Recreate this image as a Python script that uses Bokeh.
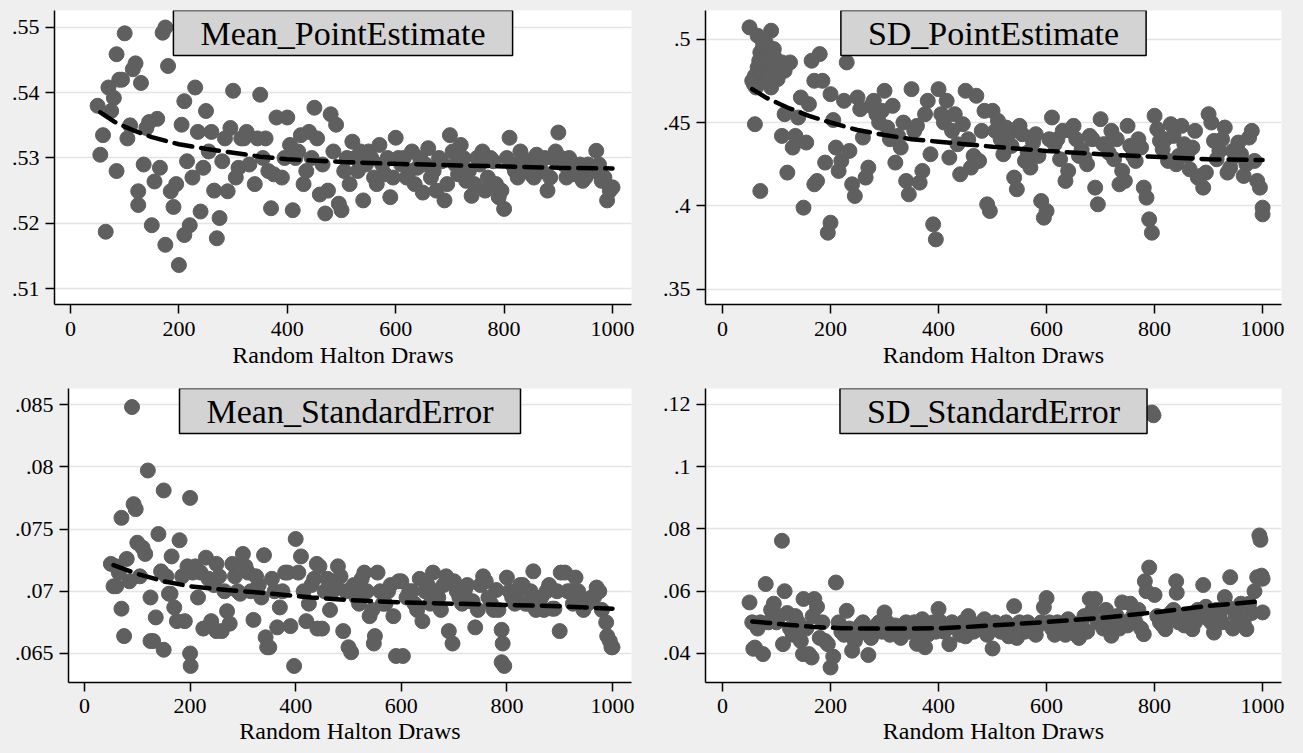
from bokeh.plotting import figure
from bokeh.layouts import row, column
from bokeh.models import Range1d, FixedTicker, CustomJSTickFormatter, Label
from bokeh.embed import file_html
from bokeh.resources import INLINE

# ---------------- data ----------------
X10 = [50, 60, 70, 80, 90, 100, 110, 120, 130, 140, 150, 160, 170, 180, 190, 200, 210, 220, 230, 240,
       250, 260, 270, 280, 290, 300, 310, 320, 330, 340, 350, 360, 370, 380, 390, 400, 410, 420, 430, 440,
       450, 460, 470, 480, 490, 500, 510, 520, 530, 540, 550, 560, 570, 580, 590, 600, 610, 620, 630, 640,
       650, 660, 670, 680, 690, 700, 710, 720, 730, 740, 750, 760, 770, 780, 790, 800, 810, 820, 830, 840,
       850, 860, 870, 880, 890, 900, 910, 920, 930, 940, 950, 960, 970, 980, 990, 1000]

X_TICKS = [0, 200, 400, 600, 800, 1000]
X_LABEL = "Random Halton Draws"

# Panel 1: Mean_PointEstimate
P1_Y = [.5380, .5335, .5408, .5392, .5420, .5491, .5350, .5445, .5415, .5346,
        .5197, .5360, .5492, .5441, .5225, .5136, .5387, .5197, .5408, .5218,
        .5372, .5340, .5177, .5295, .5249, .5403, .5285, .5330, .5290, .5260,
        .5397, .5330, .5223, .5362, .5270, .5362, .5220, .5310, .5260, .5340,
        .5377, .5244, .5215, .5367, .5351, .5220, .5300, .5325, .5280, .5235,
        .5310, .5270, .5320, .5275, .5240, .5331, .5290, .5270, .5310, .5285,
        .5247, .5315, .5280, .5300, .5235, .5335, .5290, .5320, .5265, .5242,
        .5300, .5310, .5270, .5295, .5240, .5222, .5331, .5280, .5310, .5290,
        .5275, .5305, .5280, .5250, .5300, .5339, .5290, .5300, .5275, .5290,
        .5270, .5285, .5311, .5265, .5235, .5255]
P1_EX_X = [55, 65, 75, 85, 85, 95, 105, 115, 125, 125, 135, 145, 155, 165, 175, 175, 185, 195, 205, 210,
           215, 225, 235, 245, 255, 265, 275, 285, 295, 305, 315, 325, 345, 355, 365, 375, 395, 405, 415, 425,
           435, 445, 455, 465, 475, 485, 495, 505, 515, 525, 535, 545, 555, 565, 575, 585, 595, 605, 615, 625,
           635, 645, 655, 665, 675, 685, 695, 705, 715, 725, 735, 745, 755, 765, 775, 785, 795, 805, 815, 825,
           835, 845, 855, 865, 875, 885, 895, 905, 915, 925, 935, 945, 955, 965, 975, 985, 995]
P1_EX_Y = [.5305, .5187, .5372, .5459, .5280, .5420, .5330, .5436, .5228, .5249,
           .5290, .5355, .5264, .5285, .5167, .5500, .5249, .5260, .5351, .5182,
           .5295, .5270, .5340, .5285, .5310, .5250, .5208, .5330, .5346, .5270,
           .5330, .5340, .5330, .5300, .5280, .5275, .5300, .5320, .5300, .5335,
           .5280, .5300, .5330, .5290, .5250, .5310, .5230, .5280, .5260, .5300,
           .5310, .5290, .5300, .5260, .5290, .5300, .5270, .5300, .5300, .5280,
           .5260, .5300, .5290, .5270, .5250, .5295, .5260, .5310, .5275, .5300,
           .5280, .5260, .5290, .5250, .5300, .5260, .5250, .5300, .5290, .5270,
           .5300, .5280, .5270, .5290, .5300, .5270, .5310, .5300, .5270, .5290,
           .5280, .5265, .5290, .5280, .5290, .5270, .5250]
P1_FIT_X = [55, 80, 100, 120, 150, 200, 250, 300, 350, 400, 500, 600, 700, 800, 900, 1000]
P1_FIT_Y = [.5370, .5356, .5348, .5341, .5332, .5321, .5314, .5308, .5302, .5298,
            .5294, .5291, .5289, .5287, .5285, .5284]
P1_TICKS = [.51, .52, .53, .54, .55]

# Panel 2: SD_PointEstimate
P2_Y = [.507, .449, .409, .498, .505, .487, .442, .420, .435, .453,
        .399, .461, .413, .491, .426, .390, .435, .427, .486, .413,
        .465, .441, .423, .463, .450, .469, .440, .426, .435, .415,
        .470, .448, .421, .463, .389, .470, .450, .429, .455, .419,
        .469, .423, .466, .445, .401, .457, .451, .431, .443, .417,
        .448, .427, .423, .443, .403, .397, .453, .440, .445, .421,
        .448, .430, .429, .442, .411, .452, .437, .445, .440, .421,
        .448, .430, .440, .411, .392, .454, .439, .440, .449, .425,
        .448, .430, .435, .417, .411, .455, .439, .433, .447, .423,
        .430, .431, .425, .445, .415, .399]
P2_EX_X = [55, 58, 60, 62, 65, 68, 70, 72, 75, 78, 80, 82, 85, 88, 90, 92, 95, 98, 102, 105,
           110, 115, 120, 125,
           65, 75, 95, 115, 135, 145, 155, 165, 170, 175, 185, 195, 200, 205, 215, 225, 235, 245, 255, 265,
           275, 285, 295, 305, 315, 325, 335, 345, 355, 365, 375, 385, 395, 405, 415, 425, 435, 445, 455, 465,
           475, 485, 495, 505, 515, 525, 535, 545, 555, 565, 575, 585, 595, 605, 615, 625, 635, 645, 655, 665,
           675, 685, 695, 705, 715, 725, 735, 745, 755, 765, 775, 785, 795, 805, 815, 825, 835, 845, 855, 865,
           875, 885, 895, 905, 915, 925, 935, 945, 955, 965, 975, 985, 995, 1000]
P2_EX_Y = [.475, .473, .478, .471, .483, .487, .492, .480, .495, .485,
           .475, .488, .482, .478, .471, .485, .490, .480, .476, .484,
           .486, .481, .485, .486,
           .502, .498, .494, .455, .442, .465, .438, .487, .475, .415,
           .475, .384, .467, .4515, .421, .463, .433, .406, .458, .417,
           .460, .455, .457, .447, .460, .442, .450, .407, .445, .414,
           .455, .431, .380, .455, .463, .445, .437, .449, .440, .430,
           .427, .457, .397, .445, .440, .447, .436, .410, .443, .432,
           .438, .430, .393, .440, .437, .428, .415, .445, .440, .434,
           .425, .440, .401, .437, .432, .428, .413, .415, .436, .427,
           .435, .405, .384, .446, .434, .427, .442, .430, .437, .422,
           .445, .418, .420, .450, .428, .440, .420, .433, .438, .418,
           .441, .427, .411, .395]
P2_FIT_X = [55, 80, 100, 120, 160, 200, 250, 300, 350, 400, 450, 500, 600, 700, 800, 900, 1000]
P2_FIT_Y = [.470, .465, .462, .459, .454, .450, .4455, .4425, .440, .4385,
            .437, .4355, .433, .431, .4295, .428, .4275]
P2_TICKS = [.35, .4, .45, .5]

# Panel 3: Mean_StandardError
P3_Y = [.0722, .0704, .0686, .0726, .0848, .0739, .0735, .0797, .0660, .0746,
        .0781, .0698, .0687, .0741, .0676, .0775, .0720, .0715, .0727, .0676,
        .0722, .0668, .0684, .0722, .0700, .0730, .0715, .0677, .0705, .0729,
        .0655, .0700, .0687, .0715, .0672, .0742, .0728, .0676, .0705, .0722,
        .0670, .0710, .0700, .0720, .0668, .0655, .0705, .0690, .0715, .0680,
        .0664, .0700, .0690, .0705, .0648, .0708, .0695, .0700, .0685, .0676,
        .0705, .0715, .0695, .0705, .0668, .0708, .0695, .0700, .0692, .0671,
        .0705, .0708, .0690, .0701, .0643, .0711, .0695, .0700, .0705, .0690,
        .0716, .0690, .0685, .0705, .0686, .0668, .0715, .0700, .0711, .0690,
        .0690, .0695, .0703, .0685, .0664, .0655]
P3_EX_X = [55, 60, 65, 70, 75, 85, 93, 97, 105, 115, 125, 125, 135, 145, 150, 155, 163, 165, 175, 185,
           195, 200, 201, 205, 215, 225, 235, 245, 250, 255, 265, 275, 285, 295, 305, 315, 325, 335, 343, 346,
           355, 365, 375, 385, 397, 405, 415, 425, 435, 441, 445, 455, 465, 475, 485, 495, 505, 515, 525, 535,
           545, 548, 555, 565, 575, 585, 595, 603, 615, 625, 635, 645, 655, 665, 675, 685, 697, 705, 715, 725,
           735, 745, 755, 765, 775, 784, 790, 792, 795, 805, 815, 825, 835, 845, 855, 865, 875, 886, 895, 902,
           915, 925, 935, 945, 953, 965, 975, 988, 995, 998]
P3_EX_Y = [.0704, .0720, .0715, .0759, .0664, .0708, .0770, .0766, .0712, .0730,
           .0660, .0695, .0679, .0716, .0653, .0712, .0698, .0728, .0676, .0712,
           .0720, .0650, .0640, .0715, .0695, .0670, .0710, .0705, .0668, .0712,
           .0700, .0674, .0712, .0698, .0720, .0700, .0712, .0695, .0663, .0655,
           .0710, .0671, .0700, .0715, .0640, .0715, .0700, .0690, .0710, .0670,
           .0720, .0700, .0685, .0705, .0712, .0700, .0651, .0695, .0710, .0700,
           .0685, .0658, .0715, .0690, .0700, .0680, .0708, .0648, .0700, .0690,
           .0710, .0700, .0690, .0700, .0685, .0712, .0658, .0700, .0690, .0705,
           .0692, .0685, .0712, .0695, .0685, .0685, .0669, .0658, .0640, .0700,
           .0690, .0705, .0690, .0700, .0685, .0695, .0700, .0686, .0700, .0715,
           .0700, .0690, .0700, .0685, .0690, .0695, .0700, .0675, .0660, .0655]
P3_FIT_X = [55, 100, 150, 200, 270, 330, 380, 430, 500, 600, 700, 800, 900, 1000]
P3_FIT_Y = [.0721, .0714, .0708, .0704, .0701, .0699, .0697, .0695, .0693, .0691,
            .0690, .0689, .0688, .0686]
P3_TICKS = [.065, .07, .075, .08, .085]

# Panel 4: SD_StandardError
P4_Y = [.0564, .0419, .0500, .0623, .0540, .0500, .0762, .0530, .0460, .0500,
        .0575, .0398, .0575, .0450, .0440, .0355, .0628, .0470, .0537, .0409,
        .0460, .0500, .0395, .0480, .0500, .0532, .0460, .0490, .0450, .0500,
        .0470, .0431, .0510, .0460, .0500, .0543, .0470, .0430, .0490, .0460,
        .0455, .0500, .0480, .0500, .0460, .0416, .0490, .0470, .0455, .0552,
        .0500, .0470, .0490, .0460, .0500, .0578, .0480, .0500, .0470, .0510,
        .0480, .0450, .0520, .0575, .0575, .0500, .0540, .0457, .0520, .0564,
        .0490, .0520, .0540, .0462, .0676, .0588, .0500, .0478, .0530, .0632,
        .0500, .0520, .0478, .0540, .0620, .0510, .0467, .0520, .0581, .0645,
        .0522, .0560, .0478, .0530, .0645, .0532]
P4_EX_X = [55, 57, 65, 75, 85, 95, 105, 112, 115, 125, 135, 145, 149, 155, 165, 167, 175, 185, 195, 205,
           215, 225, 235, 245, 255, 265, 275, 285, 295, 305, 315, 325, 335, 345, 355, 365, 375, 385, 395, 405,
           415, 425, 435, 445, 455, 465, 475, 485, 495, 505, 515, 525, 535, 545, 555, 565, 575, 585, 595, 605,
           615, 625, 635, 645, 655, 665, 675, 685, 695, 705, 715, 725, 735, 745, 755, 765, 775, 782, 785, 795,
           798, 805, 815, 825, 835, 841, 845, 855, 865, 875, 885, 895, 905, 915, 925, 935, 945, 955, 965, 975,
           985, 994, 996, 998, 1000]
P4_EX_Y = [.0500, .0415, .0480, .0398, .0500, .0560, .0520, .0430, .0600, .0480,
           .0520, .0440, .0398, .0480, .0387, .0520, .0550, .0500, .0430, .0390,
           .0500, .0460, .0480, .0440, .0490, .0470, .0450, .0490, .0470, .0500,
           .0480, .0460, .0490, .0470, .0500, .0470, .0420, .0490, .0470, .0500,
           .0480, .0500, .0480, .0500, .0520, .0470, .0490, .0510, .0480, .0500,
           .0470, .0500, .0480, .0450, .0490, .0500, .0470, .0490, .0549, .0500,
           .0460, .0490, .0460, .0500, .0460, .0500, .0470, .0540, .0500, .0480,
           .0500, .0510, .0480, .0500, .0560, .0500, .0480, .0632, .0600, .1174,
           .1165, .0520, .0490, .0510, .0540, .0595, .0500, .0490, .0510, .0500,
           .0520, .0550, .0500, .0540, .0500, .0550, .0480, .0520, .0500, .0560,
           .0600, .0779, .0765, .0650, .0640]
P4_FIT_X = [55, 80, 120, 170, 220, 280, 340, 400, 450, 500, 600, 700, 800, 900, 1000]
P4_FIT_Y = [.0503, .0499, .0492, .0485, .0481, .0480, .0480, .0481, .0485, .0490,
            .0501, .0514, .0532, .0553, .0568]
P4_TICKS = [.04, .06, .08, .1, .12]

# ---------------- styling ----------------
FONT = "Liberation Serif"
PAGE_BG = "#efefef"
DOT = "#5f5f5f"

Y_FMT = CustomJSTickFormatter(code=r"""
var s = tick.toFixed(3);
s = s.replace(/0+$/, '');
s = s.replace(/\.$/, '');
return s.replace(/^0\./, '.');
""")


def panel(title, xs, ys, ex_x, ex_y, fx, fy, yticks, xr, yr, w, h, bl, br, bt, bb, s1, s2):
    p = figure(width=w, height=h, x_range=Range1d(*xr), y_range=Range1d(*yr),
               output_backend="svg", toolbar_location=None,
               min_border_left=bl, min_border_right=br, min_border_top=bt, min_border_bottom=bb)
    p.background_fill_color = "white"
    p.border_fill_color = PAGE_BG
    p.outline_line_color = None
    p.styles = {"background-color": PAGE_BG}

    n1 = min(len(xs), len(ys))
    n2 = min(len(ex_x), len(ex_y))
    px = list(xs[:n1]) + list(ex_x[:n2])
    py = list(ys[:n1]) + list(ex_y[:n2])
    p.scatter(px, py, marker="circle", size=15, fill_color=DOT, line_color=DOT)
    p.line(fx, fy, line_color="black", line_width=4.5, line_dash="18 9", line_cap="round")

    p.xgrid.visible = False
    p.ygrid.ticker = FixedTicker(ticks=yticks)
    p.ygrid.grid_line_color = "#e4e4e4"
    p.ygrid.grid_line_width = 1.6

    for ax in (p.xaxis[0], p.yaxis[0]):
        ax.axis_line_color = "black"
        ax.axis_line_width = 1.5
        ax.major_tick_line_color = "black"
        ax.major_tick_line_width = 1.5
        ax.major_tick_out = 9
        ax.major_tick_in = 0
        ax.minor_tick_line_color = None
        ax.major_label_text_font = FONT
        ax.major_label_text_font_size = "22px"
        ax.major_label_text_color = "black"

    xa = p.xaxis[0]
    xa.ticker = FixedTicker(ticks=X_TICKS)
    xa.axis_label = X_LABEL
    xa.axis_label_text_font = FONT
    xa.axis_label_text_font_size = "24px"
    xa.axis_label_text_font_style = "normal"
    xa.axis_label_text_color = "black"
    xa.major_label_standoff = s1
    xa.axis_label_standoff = s2

    ya = p.yaxis[0]
    ya.ticker = FixedTicker(ticks=yticks)
    ya.formatter = Y_FMT
    ya.major_label_standoff = 6

    lab = Label(x=(xr[0] + xr[1]) / 2, y=yr[1], text=title, anchor="top_center",
                text_font=FONT, text_font_size="34px", text_color="black",
                background_fill_color="#d3d3d3", border_line_color="black",
                border_line_width=1.5,
                padding=dict(left=27, right=27, top=4, bottom=4))
    p.add_layout(lab)
    return p


p1 = panel("Mean_PointEstimate", X10, P1_Y, P1_EX_X, P1_EX_Y, P1_FIT_X, P1_FIT_Y, P1_TICKS,
           (-29.5, 1035), (.50755, .5526), 651, 376, 54, 20, 10, 72, 8, 3)
p2 = panel("SD_PointEstimate", X10, P2_Y, P2_EX_X, P2_EX_Y, P2_FIT_X, P2_FIT_Y, P2_TICKS,
           (-31.5, 1035), (.341, .5171), 652, 376, 54, 22, 10, 72, 8, 3)
p3 = panel("Mean_StandardError", X10, P3_Y, P3_EX_X, P3_EX_Y, P3_FIT_X, P3_FIT_Y, P3_TICKS,
           (-30.3, 1036), (.06267, .08629), 651, 377, 68, 20, 12, 71, 7, 2)
p4 = panel("SD_StandardError", X10, P4_Y, P4_EX_X, P4_EX_Y, P4_FIT_X, P4_FIT_Y, P4_TICKS,
           (-31.5, 1035), (.03068, .1251), 652, 377, 54, 22, 12, 71, 7, 2)

bg = {"background-color": PAGE_BG}
layout = column(row(p1, p2, styles=bg), row(p3, p4, styles=bg), styles=bg)

open("out.html", "w").write(file_html(layout, INLINE))
